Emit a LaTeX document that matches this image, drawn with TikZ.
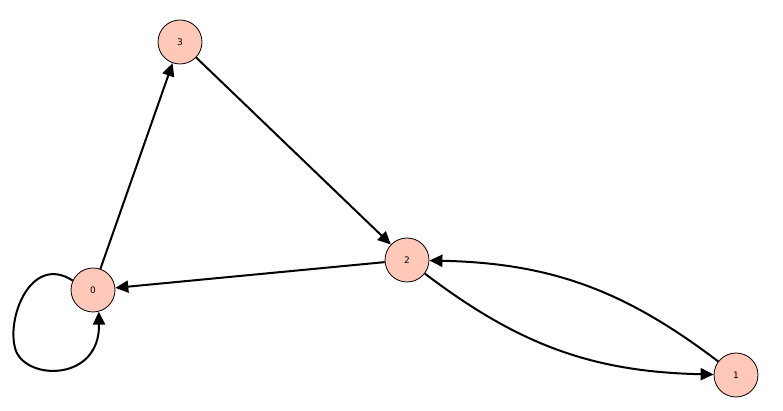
\documentclass[tikz,border=0pt]{standalone}
\usepackage{fontspec}
\setmainfont{DejaVu Sans}
\usetikzlibrary{arrows.meta}
\begin{document}
\begin{tikzpicture}[x=1pt,y=1pt,
  vtx/.style={circle,draw=black,line width=0.8pt,fill={rgb,255:red,255;green,200;blue,185},minimum size=44pt,inner sep=0pt,font=\fontsize{9}{10}\selectfont},
  arr/.style={line width=2pt,-{Triangle[length=13pt,width=12pt]}}]
\useasboundingbox (0,0) rectangle (783,411);
\node[vtx] (n3) at (180,369) {3};
\node[vtx] (n2) at (407,151) {2};
\node[vtx] (n0) at (93,121) {0};
\node[vtx] (n1) at (736,36) {1};
\draw[arr] (n0) -- (n3);
\draw[arr] (n3) -- (n2);
\draw[arr] (n2) -- (n0);
\draw[arr] (n2) to[bend right=18] (n1);
\draw[arr] (n1) to[bend right=18] (n2);
\draw[arr] (n0.155) .. controls (30,158) and (5,90) .. (16,60) .. controls (28,30) and (100,30) .. (n0.-75);
\end{tikzpicture}
\end{document}
